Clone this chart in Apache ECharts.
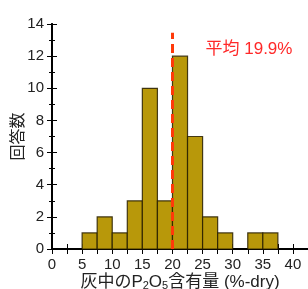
<!DOCTYPE html>
<html>
<head>
<meta charset="utf-8">
<script src="https://cdn.jsdelivr.net/npm/echarts@6/dist/echarts.min.js"></script>
<style>
html, body { margin: 0; padding: 0; background: #fff; }
#main { width: 308px; height: 289px; }
</style>
</head>
<body>
<div id="main"></div>
<script>
// histogram bins (%-dry), width 2.5
var binStart = [5, 7.5, 10, 12.5, 15, 17.5, 20, 22.5, 25, 27.5, 30, 32.5, 35];
var binEnd = [7.5, 10, 12.5, 15, 17.5, 20, 22.5, 25, 27.5, 30, 32.5, 35, 37.5];
var counts = [1, 2, 1, 3, 10, 3, 12, 7, 2, 1, 0, 1, 1];
var meanValue = 19.9;
var meanLabel = '平均 19.9%';

var data = [];
for (var i = 0; i < binStart.length; i++) {
    if (counts[i] > 0) data.push([binStart[i], binEnd[i], counts[i]]);
}

var font = '"Liberation Sans", Arial, "Noto Sans CJK JP", sans-serif';
var myChart = echarts.init(document.getElementById('main'));

var tickStyle = {color: '#000', width: 1};
var option = {
    animation: false,
    grid: {left: 52, right: 0, top: 24, bottom: 40, containLabel: false, outerBoundsMode: 'none'},
    xAxis: [{
        type: 'value',
        min: 0, max: 42.5, interval: 5,
        name: '灰中のP{sub|2}O{sub|5}含有量 (%-dry)',
        nameLocation: 'middle',
        nameGap: 24,
        nameMoveOverlap: false,
        nameTextStyle: {
            fontFamily: font, fontSize: 17, color: '#222', verticalAlign: 'top',
            rich: {sub: {fontFamily: font, fontSize: 11, color: '#222', padding: [7, 0, 0, 0]}}
        },
        axisLine: {lineStyle: {color: '#000', width: 2}},
        axisTick: {inside: true, length: 5, lineStyle: tickStyle},
        minorTick: {show: true, splitNumber: 2, length: 5, lineStyle: tickStyle},
        axisLabel: {fontFamily: font, fontSize: 15, color: '#222', margin: 8,
            formatter: function (v) { return v > 40 ? '' : v; }},
        splitLine: {show: false}
    }, {
        type: 'value', position: 'top',
        min: 0, max: 42.5, interval: 5,
        axisLine: {lineStyle: {color: '#000', width: 2}},
        axisTick: {inside: true, length: 5, lineStyle: tickStyle},
        minorTick: {show: true, splitNumber: 2, length: 5, lineStyle: tickStyle},
        axisLabel: {show: false},
        splitLine: {show: false}
    }],
    yAxis: [{
        type: 'value',
        min: 0, max: 14, interval: 2,
        name: '回答数',
        nameLocation: 'middle',
        nameRotate: 90,
        nameGap: 25,
        nameMoveOverlap: false,
        nameTextStyle: {fontFamily: font, fontSize: 16, color: '#222'},
        axisLine: {lineStyle: {color: '#000', width: 2}},
        axisTick: {inside: true, length: 5, lineStyle: tickStyle},
        minorTick: {show: true, splitNumber: 2, length: 3, lineStyle: tickStyle},
        axisLabel: {fontFamily: font, fontSize: 15, color: '#222', margin: 8},
        splitLine: {show: false}
    }, {
        type: 'value', position: 'right',
        min: 0, max: 14, interval: 2,
        axisLine: {lineStyle: {color: '#000', width: 2}},
        axisTick: {inside: true, length: 5, lineStyle: tickStyle},
        minorTick: {show: true, splitNumber: 2, length: 3, lineStyle: tickStyle},
        axisLabel: {show: false},
        splitLine: {show: false}
    }],
    series: [{
        type: 'custom',
        data: data,
        encode: {x: [0, 1], y: 2},
        renderItem: function (params, api) {
            var p0 = api.coord([api.value(0), api.value(2)]);
            var p1 = api.coord([api.value(1), 0]);
            return {
                type: 'rect',
                shape: {x: p0[0], y: p0[1], width: p1[0] - p0[0], height: p1[1] - p0[1]},
                style: {fill: '#b8980a', stroke: 'rgba(40,30,0,0.85)', lineWidth: 1.2}
            };
        },
        markLine: {
            silent: true,
            symbol: 'none',
            lineStyle: {color: '#ff3a0a', width: 3, type: [9, 5]},
            label: {show: false},
            data: [[{coord: [meanValue, 0]}, {coord: [meanValue, 13.45]}]]
        },
        markPoint: {
            silent: true,
            symbol: 'circle',
            symbolSize: 0,
            label: {
                show: true, position: 'inside',
                formatter: meanLabel,
                fontFamily: font, fontSize: 17, color: '#ff2828'
            },
            data: [{coord: [32.7, 12.45]}]
        }
    }]
};
myChart.setOption(option);
</script>
</body>
</html>
